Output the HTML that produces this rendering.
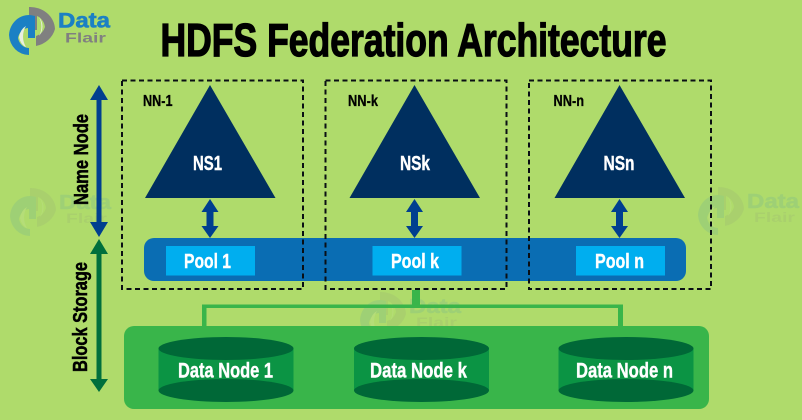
<!DOCTYPE html>
<html><head><meta charset="utf-8"><style>
html,body{margin:0;padding:0;background:#afdb6b}
svg{display:block}
text{font-family:"Liberation Sans",sans-serif;font-weight:700}
</style></head><body>
<svg width="802" height="420" viewBox="0 0 802 420" xmlns="http://www.w3.org/2000/svg">
<defs>
<g id="mark">
<path d="M29 12 L29 7 A25 23 0 0 1 55 29 A25 23 0 0 1 36 46 L36 36 A13 14 0 0 0 45 27 A13 14 0 0 0 37 16 L37 30 L29 30Z" fill="#808080"/>
<path d="M35 16 L35 38 L28 38 L28 28 A11 13 0 0 0 18 38 A11 13 0 0 0 29 48 L29 55 A20 21 0 0 1 9 35 A20 21 0 0 1 35 16Z" fill="#1b80c4"/>
<path d="M26 26 A12 16 0 0 0 19 37 A10 14 0 0 0 26 47 A20 20 0 0 1 26 26Z" fill="#e9efe0"/>
<path d="M39 17 A13 14 0 0 1 39 36 A20 20 0 0 0 39 17Z" fill="#e9efe0"/>
</g>
<g id="wm" opacity=".11">
<use href="#mark"/>
<text x="58" y="28" font-size="20" fill="#1b80c4" stroke="#1b80c4" stroke-width=".6" textLength="52" lengthAdjust="spacingAndGlyphs">Data</text>
<text x="65" y="42" font-size="14" fill="#808080" textLength="41" lengthAdjust="spacingAndGlyphs">Flair</text>
</g>
</defs>

<rect width="802" height="420" fill="#afdb6b"/>

<use href="#mark"/>
<text x="58" y="27.500" font-size="21" fill="#1b80c4" stroke="#1b80c4" stroke-width=".6" textLength="52" lengthAdjust="spacingAndGlyphs">Data</text>
<text x="65" y="42.500" font-size="14" fill="#808080" textLength="41" lengthAdjust="spacingAndGlyphs">Flair</text>

<text x="160.500" y="56" font-size="46" fill="#000" stroke="#000" stroke-width="1.300" textLength="506" lengthAdjust="spacingAndGlyphs">HDFS Federation Architecture</text>

<use href="#wm" x="1" y="181"/>
<use href="#wm" x="351" y="285"/>
<use href="#wm" x="689" y="180"/>

<!-- triangles -->
<path d="M210 85 L275.500 198 L145 198Z" fill="#002f5f"/>
<path d="M414.500 85 L480 198 L349.500 198Z" fill="#002f5f"/>
<path d="M619.500 85 L685 198 L554.500 198Z" fill="#002f5f"/>
<g fill="#fff" stroke="#fff" stroke-width=".4" font-size="20.500">
<text x="193" y="170" textLength="29" lengthAdjust="spacingAndGlyphs">NS1</text>
<text x="400" y="170" textLength="30" lengthAdjust="spacingAndGlyphs">NSk</text>
<text x="603.500" y="170" textLength="31" lengthAdjust="spacingAndGlyphs">NSn</text>
</g>

<!-- double arrows -->
<g fill="#003f8f">
<path d="M210 199 L218.500 212 L213.500 212 L213.500 226 L218.500 226 L210 238 L201.500 226 L206.500 226 L206.500 212 L201.500 212Z"/>
<path d="M414.500 199 L423 212 L418 212 L418 226 L423 226 L414.500 238 L406 226 L411 226 L411 212 L406 212Z"/>
<path d="M619.500 199 L628 212 L623 212 L623 226 L628 226 L619.500 238 L611 226 L616 226 L616 212 L611 212Z"/>
<path d="M99 85 L108 100 L101.500 100 L101.500 222 L108 222 L99 237 L90 222 L96.500 222 L96.500 100 L90 100Z"/>
</g>
<path d="M99 239 L108 254 L101.500 254 L101.500 379 L108 379 L99 392 L90 379 L96.500 379 L96.500 254 L90 254Z" fill="#006f3c"/>

<!-- side labels -->
<text transform="translate(88,205) rotate(-90)" font-size="20" fill="#000" stroke="#000" stroke-width=".5" textLength="91" lengthAdjust="spacingAndGlyphs">Name Node</text>
<text transform="translate(87,372) rotate(-90)" font-size="20" fill="#000" stroke="#000" stroke-width=".5" textLength="110" lengthAdjust="spacingAndGlyphs">Block Storage</text>

<!-- pool bar -->
<rect x="144" y="238" width="542" height="43" rx="10" fill="#0a6db3"/>
<rect x="166" y="246" width="89" height="29.500" fill="#00aeef"/>
<rect x="372.500" y="246" width="89" height="29.500" fill="#00aeef"/>
<rect x="576" y="246" width="89" height="29.500" fill="#00aeef"/>
<g fill="#fff" stroke="#fff" stroke-width=".4" font-size="20.500">
<text x="184" y="268" textLength="47" lengthAdjust="spacingAndGlyphs">Pool 1</text>
<text x="391" y="268" textLength="48" lengthAdjust="spacingAndGlyphs">Pool k</text>
<text x="595" y="268" textLength="49" lengthAdjust="spacingAndGlyphs">Pool n</text>
</g>

<!-- dashed boxes -->
<g fill="none" stroke="#0a0f14" stroke-width="2" stroke-dasharray="5 3.500">
<rect x="122" y="80.500" width="181" height="208.500"/>
<rect x="325.500" y="80.500" width="181" height="208.500"/>
<rect x="529" y="80.500" width="182" height="208.500"/>
</g>
<g fill="#000" stroke="#000" stroke-width=".3" font-size="16">
<text x="143" y="106" textLength="29.500" lengthAdjust="spacingAndGlyphs">NN-1</text>
<text x="348" y="106" textLength="30" lengthAdjust="spacingAndGlyphs">NN-k</text>
<text x="553.500" y="106" textLength="30.500" lengthAdjust="spacingAndGlyphs">NN-n</text>
</g>

<!-- connectors -->
<g fill="#39b54a">
<rect x="412" y="290" width="8" height="17"/>
<rect x="202" y="304.500" width="421" height="3.500"/>
<rect x="202" y="304.500" width="4.500" height="22"/>
<rect x="618" y="304.500" width="5" height="22"/>
</g>

<!-- storage -->
<rect x="124" y="326" width="585" height="83" rx="10" fill="#39b54a"/>
<g>
<path d="M158.500 348.500 H293.500 V390.500 H158.500Z" fill="#0b9444"/>
<ellipse cx="226" cy="348.500" rx="67.500" ry="11.500" fill="#006837"/>
<ellipse cx="226" cy="390.500" rx="67.500" ry="11.500" fill="#006837"/>
<path d="M354 348.500 H489 V390.500 H354Z" fill="#0b9444"/>
<ellipse cx="421.500" cy="348.500" rx="67.500" ry="11.500" fill="#006837"/>
<ellipse cx="421.500" cy="390.500" rx="67.500" ry="11.500" fill="#006837"/>
<path d="M558.500 348.500 H693.500 V390.500 H558.500Z" fill="#0b9444"/>
<ellipse cx="626" cy="348.500" rx="67.500" ry="11.500" fill="#006837"/>
<ellipse cx="626" cy="390.500" rx="67.500" ry="11.500" fill="#006837"/>
</g>
<g fill="#fff" stroke="#fff" stroke-width=".4" font-size="21.500">
<text x="178" y="377.500" textLength="95" lengthAdjust="spacingAndGlyphs">Data Node 1</text>
<text x="370" y="377.500" textLength="97" lengthAdjust="spacingAndGlyphs">Data Node k</text>
<text x="576" y="377.500" textLength="97" lengthAdjust="spacingAndGlyphs">Data Node n</text>
</g>
</svg>
</body></html>
